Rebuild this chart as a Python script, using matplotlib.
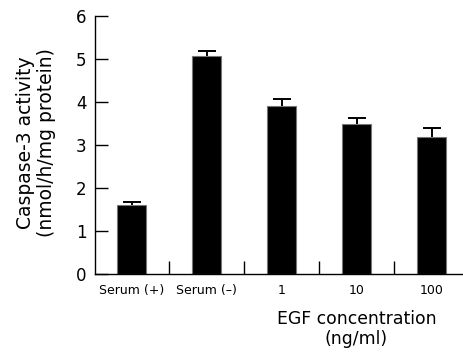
import matplotlib
matplotlib.use("Agg")
import matplotlib.pyplot as plt
from matplotlib.ticker import FixedLocator
import matplotlib.transforms as mtrans
import numpy as np

categories = ["Serum (+)", "Serum (–)", "1", "10", "100"]
values = [1.60, 5.08, 3.91, 3.50, 3.19]
errors = [0.07, 0.10, 0.15, 0.13, 0.20]

plt.rcParams['font.family'] = ['DejaVu Sans']

fig = plt.figure(figsize=(4.64, 3.53), dpi=100)
ax = fig.add_axes([95/464, 1-274/353, 1-95/464, (274-16)/353])

x = np.arange(len(categories))
ax.bar(x, values, width=0.39, color='black', edgecolor='#777777', linewidth=0.8, zorder=2)
eb = ax.errorbar(x, values, yerr=[np.zeros(len(errors)), errors], fmt='none',
                 ecolor='black', elinewidth=1.4, capsize=6.5, capthick=1.4, zorder=1)
caps = eb[1]
if len(caps) >= 2:
    caps[0].set_visible(False)

ax.set_xlim(-0.487, 4.433)
ax.set_ylim(0, 6)
for s in ['top', 'right']:
    ax.spines[s].set_visible(False)
for s in ['left', 'bottom']:
    ax.spines[s].set_linewidth(1.0)

ax.set_yticks(range(0, 7))
ax.tick_params(axis='y', direction='in', length=9.4, width=1.0, labelsize=12, pad=6)
ax.set_xticks(x)
ax.set_xticklabels(categories)
ax.tick_params(axis='x', which='major', length=0, labelsize=9, pad=7)
ax.xaxis.set_minor_locator(FixedLocator([0.5, 1.5, 2.5, 3.5]))
ax.tick_params(axis='x', which='minor', direction='in', length=9.4, width=1.0)

fig.text(36/464, 1-143/353, "Caspase-3 activity\n(nmol/h/mg protein)", rotation=90,
         ha='center', va='center', fontsize=13.5, linespacing=1.15)

trans = mtrans.blended_transform_factory(ax.transData, fig.transFigure)
fig.text(3, 1-329/353, "EGF concentration\n(ng/ml)", transform=trans, ha='center', va='center',
         fontsize=12.4, linespacing=1.16)

fig.savefig("out.png", dpi=100)
